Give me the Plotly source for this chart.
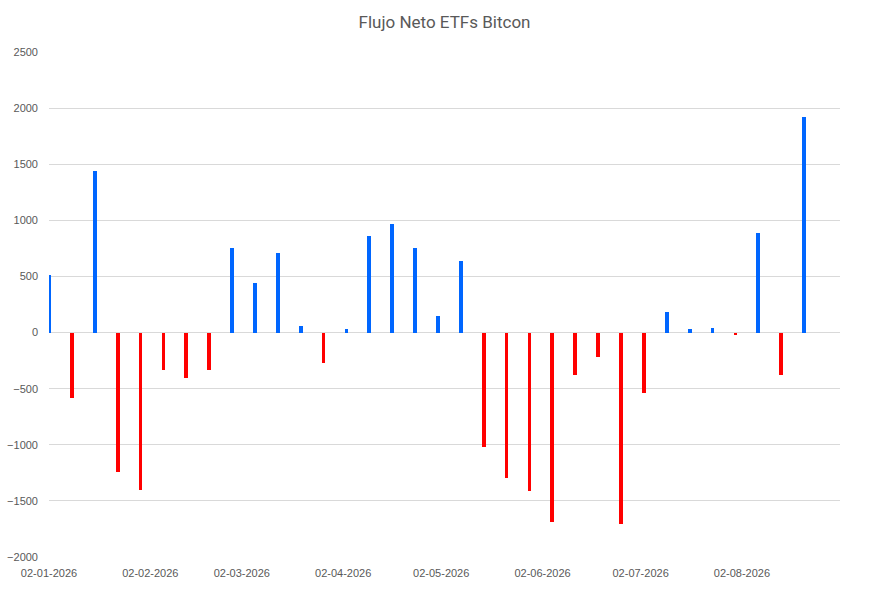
import plotly.graph_objects as go
import pandas as pd

start_date = "2026-01-02"
n_weeks = 34
flows = [510, -580, 1440, -1240, -1400, -330, -405, -335, 755, 443,
         713, 60, -267, 30, 858, 965, 755, 151, 642, -1020,
         -1295, -1408, -1684, -374, -220, -1708, -535, 187, 33, 45,
         -25, 888, -380, 1922]
month_ticks = ["2026-01-02", "2026-02-02", "2026-03-02", "2026-04-02",
               "2026-05-02", "2026-06-02", "2026-07-02", "2026-08-02"]
tick_labels = ["02-01-2026", "02-02-2026", "02-03-2026", "02-04-2026",
               "02-05-2026", "02-06-2026", "02-07-2026", "02-08-2026"]
y_ticks = [-2000, -1500, -1000, -500, 0, 500, 1000, 1500, 2000, 2500]

dates = pd.date_range(start_date, periods=n_weeks, freq="7D")
colors = ["#0066FF" if v >= 0 else "#FF0000" for v in flows]

fig = go.Figure(go.Bar(
    x=dates, y=flows,
    marker=dict(color=colors, line=dict(width=0)),
    width=1.15 * 86400000,
))

fig.update_layout(
    width=884, height=590,
    paper_bgcolor="white", plot_bgcolor="white",
    margin=dict(l=49, r=44, t=52, b=33, autoexpand=False),
    font=dict(family="Liberation Sans", size=11, color="#595959"),
    title=dict(text="Flujo Neto ETFs Bitcon", x=0.5, xanchor="center",
               xref="paper",
               y=1 - 22 / 590, yanchor="middle", yref="container",
               automargin=False,
               font=dict(family="Roboto", size=17, color="#595959")),
    showlegend=False,
    bargap=0,
)
fig.update_xaxes(
    type="date",
    automargin=False,
    range=["2026-01-02", "2026-09-01"],
    tickvals=month_ticks, ticktext=tick_labels,
    showgrid=False, zeroline=False, showline=False,
    ticks="", ticklen=0, ticklabelstandoff=8,
    tickfont=dict(family="Liberation Sans", size=11, color="#595959"),
)
fig.update_yaxes(
    automargin=False,
    range=[-2000, 2500],
    tickvals=y_ticks,
    showgrid=True, gridcolor="#D9D9D9", gridwidth=1,
    zeroline=True, zerolinecolor="#D9D9D9", zerolinewidth=1,
    showline=False, ticks="", ticklabelstandoff=10,
    tickfont=dict(family="Liberation Sans", size=11, color="#595959"),
)

fig.write_html(
    "out.html",
    config={"displayModeBar": False},
    post_script="document.body.style.margin='0';document.body.style.padding='0';",
)
